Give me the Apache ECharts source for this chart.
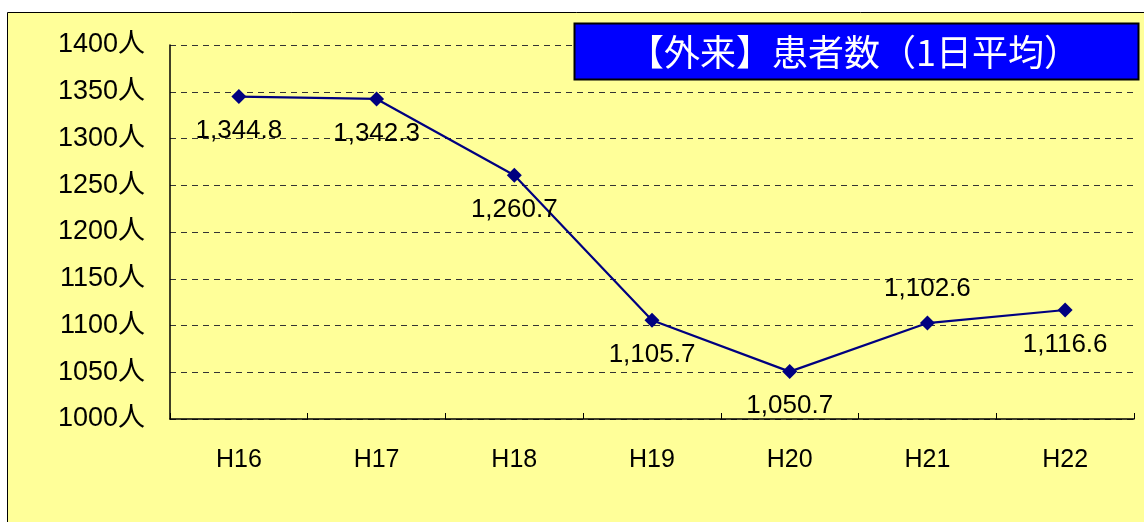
<!DOCTYPE html>
<html><head><meta charset="utf-8">
<script src="https://cdn.jsdelivr.net/npm/echarts@6/dist/echarts.min.js"></script>
<style>html,body{margin:0;padding:0;background:#fff;}#c{width:1144px;height:522px;}</style>
</head><body><div id="c"></div>
<script>
var categories = ['H16','H17','H18','H19','H20','H21','H22'];
var values = [1344.8, 1342.3, 1260.7, 1105.7, 1050.7, 1102.6, 1116.6];
var labelPos = ['bottom','bottom','bottom','bottom','bottom','top','bottom'];
var titleText = '【外来】患者数（1日平均）';
var FONT = '"Liberation Sans", "Noto Sans CJK JP", sans-serif';
var TFONT = '"Noto Sans CJK JP", sans-serif';

var chart = echarts.init(document.getElementById('c'));
chart.setOption({
  animation: false,
  backgroundColor: '#fff',
  graphic: [
    {type:'rect', z:-10, shape:{x:7.5,y:12.5,width:1160,height:530}, style:{fill:'#FFFF99', stroke:'#000', lineWidth:1}},
    {type:'rect', z:10, shape:{x:574.5,y:23.5,width:564,height:56}, style:{fill:'#0000FF', stroke:'#000', lineWidth:2}},
    {type:'text', z:11, x:854, y:52, style:{text:titleText, fill:'#fff', font:'36px ' + TFONT, align:'center', verticalAlign:'middle'}}
  ],
  grid: {left:170, top:45, right:10, bottom:103},
  xAxis: {
    type:'category', data: categories, boundaryGap:true,
    axisLine:{lineStyle:{color:'#000', width:1.5}},
    axisTick:{show:true, inside:true, length:6, lineStyle:{color:'#000'}},
    axisLabel:{color:'#000', fontSize:25, fontFamily:FONT, margin:29}
  },
  yAxis: {
    type:'value', min:1000, max:1400, interval:50,
    axisLine:{show:true, lineStyle:{color:'#000', width:1.5}},
    axisTick:{show:false},
    axisLabel:{color:'#000', fontSize:27, fontFamily:FONT, margin:25, formatter:function(v){return v + '人';}},
    splitLine:{show:true, lineStyle:{color:'#333', type:[6,5], width:1}}
  },
  series: [{
    type:'line', data: values.map(function(v,i){return {value:v, label:{position:labelPos[i]}};}),
    symbol:'diamond', symbolSize:15,
    lineStyle:{color:'#000080', width:2.2},
    itemStyle:{color:'#000080'},
    label:{show:true, distance:14, color:'#000', fontSize:26, fontFamily:FONT,
      formatter:function(p){return p.value.toLocaleString('en-US',{minimumFractionDigits:1, maximumFractionDigits:1});}}
  }]
});
</script></body></html>
